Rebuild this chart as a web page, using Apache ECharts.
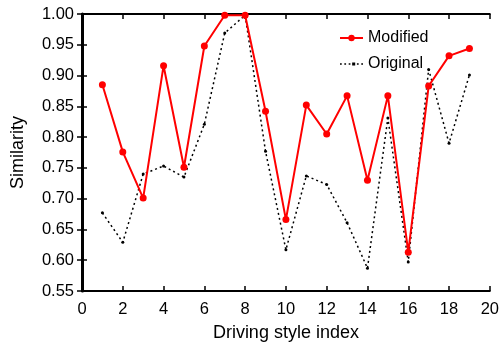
<!DOCTYPE html>
<html>
<head>
<meta charset="utf-8">
<style>
  html, body { margin: 0; padding: 0; background: #fff; }
  #chart { width: 502px; height: 347px; }
</style>
</head>
<body>
<div id="chart"></div>
<script src="https://cdn.jsdelivr.net/npm/echarts@6/dist/echarts.min.js"></script>
<script>
var styleIndex = [1, 2, 3, 4, 5, 6, 7, 8, 9, 10, 11, 12, 13, 14, 15, 16, 17, 18, 19];
var modified = [0.885, 0.776, 0.701, 0.916, 0.751, 0.948, 0.998, 0.998, 0.842, 0.666, 0.852, 0.805, 0.867, 0.730, 0.867, 0.613, 0.883, 0.932, 0.944];
var original = [0.677, 0.629, 0.740, 0.753, 0.735, 0.821, 0.969, 0.998, 0.777, 0.617, 0.737, 0.723, 0.661, 0.587, 0.831, 0.597, 0.910, 0.790, 0.901];

function pairs(vals) {
  return styleIndex.map(function (x, i) { return [x, vals[i]]; });
}

var chart = echarts.init(document.getElementById('chart'));
var font = 'Liberation Sans, Arial, sans-serif';
var tick = { inside: true, length: 5, lineStyle: { color: '#000', width: 1.5 } };
// dotted legend icon with a small dot in the middle
var dotIcon = 'path://M0,0h1.6v1.6h-1.6zM4,0h1.6v1.6h-1.6zM8,0h1.6v1.6h-1.6zM11.2,-0.6h2.8v2.8h-2.8zM15.6,0h1.6v1.6h-1.6zM19.6,0h1.6v1.6h-1.6z';

var option = {
  animation: false,
  grid: { left: 82, right: 12, top: 14, bottom: 56 },
  legend: {
    left: 334,
    top: 25,
    orient: 'vertical',
    itemWidth: 23,
    itemHeight: 8,
    itemGap: 10,
    textStyle: { fontFamily: font, fontSize: 16, color: '#000' },
    data: ['Modified', { name: 'Original', icon: dotIcon }]
  },
  xAxis: [{
    type: 'value',
    min: 0, max: 20, interval: 2,
    name: 'Driving style index',
    nameLocation: 'middle',
    nameGap: 33,
    nameTextStyle: { fontFamily: font, fontSize: 18, color: '#000' },
    axisLine: { show: true, lineStyle: { color: '#000', width: 2 } },
    axisTick: tick,
    axisLabel: { fontFamily: font, fontSize: 16.5, color: '#000', margin: 10 },
    splitLine: { show: false }
  }, {
    type: 'value',
    position: 'top',
    min: 0, max: 20, interval: 2,
    axisLine: { show: true, lineStyle: { color: '#000', width: 2 } },
    axisTick: tick,
    axisLabel: { show: false },
    splitLine: { show: false }
  }],
  yAxis: [{
    type: 'value',
    min: 0.55, max: 1.0, interval: 0.05,
    name: 'Similarity',
    nameLocation: 'middle',
    nameGap: 55,
    nameTextStyle: { fontFamily: font, fontSize: 18, color: '#000' },
    axisLine: { show: true, lineStyle: { color: '#000', width: 3 } },
    axisTick: tick,
    axisLabel: {
      fontFamily: font, fontSize: 16.5, color: '#000', margin: 8,
      formatter: function (v) { return v.toFixed(2); }
    },
    splitLine: { show: false }
  }, {
    type: 'value',
    position: 'right',
    min: 0.55, max: 1.0, interval: 0.05,
    axisLine: { show: true, lineStyle: { color: '#000', width: 2 } },
    axisTick: tick,
    axisLabel: { show: false },
    splitLine: { show: false }
  }],
  series: [{
    name: 'Modified',
    type: 'line',
    data: pairs(modified),
    symbol: 'circle',
    symbolSize: 7,
    itemStyle: { color: '#ff0000' },
    lineStyle: { color: '#ff0000', width: 2 },
    z: 3
  }, {
    name: 'Original',
    type: 'line',
    data: pairs(original),
    symbol: 'circle',
    symbolSize: 3,
    itemStyle: { color: '#000' },
    lineStyle: { color: '#000', width: 1.5, type: [2, 3] },
    z: 2
  }]
};
chart.setOption(option);
</script>
</body>
</html>
